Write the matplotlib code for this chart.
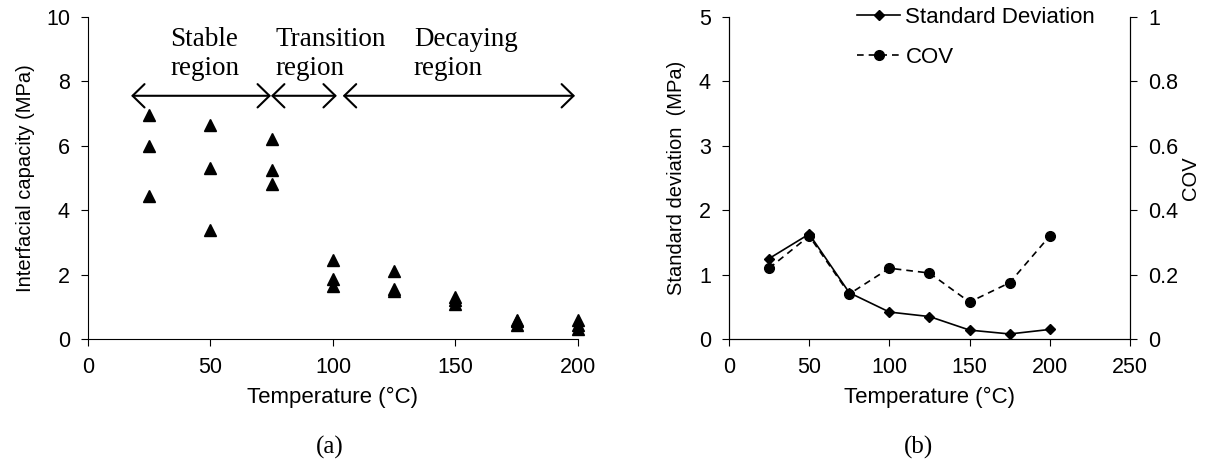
import matplotlib
matplotlib.use("Agg")
import matplotlib.pyplot as plt

plt.rcParams["font.family"] = ["Liberation Sans", "DejaVu Sans"]
plt.rcParams["font.size"] = 15.5

# (a) interfacial capacity, three specimens per temperature
temps = [25, 50, 75, 100, 125, 150, 175, 200]
capacity = [
    [6.95, 6.0, 4.45],
    [6.65, 5.3, 3.4],
    [6.2, 5.25, 4.8],
    [2.45, 1.85, 1.65],
    [2.1, 1.55, 1.5],
    [1.32, 1.2, 1.1],
    [0.6, 0.55, 0.45],
    [0.6, 0.45, 0.3],
]

# regions: (label, start, end, text x)
regions = [
    ("Stable\nregion", 17.6, 74.7, 33.5),
    ("Transition\nregion", 74.7, 101.6, 76.5),
    ("Decaying\nregion", 104, 198.8, 133),
]

# (b) scatter statistics
std_dev = [1.25, 1.63, 0.72, 0.42, 0.35, 0.14, 0.08, 0.15]
cov = [0.22, 0.32, 0.14, 0.22, 0.205, 0.115, 0.175, 0.32]

serif = ["Liberation Serif", "DejaVu Serif"]

fig = plt.figure(figsize=(12.15, 4.71), dpi=100)

ax1 = fig.add_axes([0.0724, 0.280, 0.4033, 0.6843])
xs = [t for t, vals in zip(temps, capacity) for _ in vals]
ys = [v for vals in capacity for v in vals]
ax1.plot(xs, ys, linestyle="none", marker="^", color="black", markersize=8,
         clip_on=False)
ax1.set_xlim(0, 200)
ax1.set_ylim(0, 10)
ax1.set_xticks([0, 50, 100, 150, 200])
ax1.set_yticks([0, 2, 4, 6, 8, 10])
ax1.spines["top"].set_visible(False)
ax1.spines["right"].set_visible(False)
ax1.set_xlabel("Temperature (°C)", fontsize=16, labelpad=6)
ax1.set_ylabel("Interfacial capacity (MPa)", fontsize=14.5, labelpad=8)
ax1.tick_params(direction="out", length=5, pad=8)

for label, x0, x1, tx in regions:
    ax1.annotate("", xy=(x0, 7.55), xytext=(x1, 7.55),
                 arrowprops=dict(arrowstyle="<->,head_length=0.43,head_width=0.42",
                                 color="black", lw=1.5, mutation_scale=20,
                                 shrinkA=0, shrinkB=0))
    ax1.text(tx, 8.85, label, family=serif, fontsize=19.5, ha="left",
             va="center", linespacing=1.22)

ax2 = fig.add_axes([0.600, 0.280, 0.330, 0.6843])
ax2.plot(temps, std_dev, color="black", marker="D", markersize=5, lw=1.2,
         label="Standard Deviation")
ax2.set_xlim(0, 250)
ax2.set_ylim(0, 5)
ax2.set_xticks([0, 50, 100, 150, 200, 250])
ax2.set_yticks([0, 1, 2, 3, 4, 5])
ax2.spines["top"].set_visible(False)
ax2.set_xlabel("Temperature (°C)", fontsize=16, labelpad=6)
ax2.set_ylabel("Standard deviation  (MPa)", fontsize=14.5, labelpad=9)
ax2.tick_params(direction="out", length=5, pad=8)

ax3 = ax2.twinx()
ax3.plot(temps, cov, color="black", marker="o", markersize=7, lw=1.2,
         linestyle=(0, (4, 3)), label="COV")
ax3.set_ylim(0, 1)
ax3.set_yticks([0, 0.2, 0.4, 0.6, 0.8, 1.0])
ax3.set_yticklabels(["0", "0.2", "0.4", "0.6", "0.8", "1"])
ax3.spines["top"].set_visible(False)
ax3.set_ylabel("COV", fontsize=14.5, labelpad=2)
ax3.tick_params(direction="out", length=5, pad=8)

h1, l1 = ax2.get_legend_handles_labels()
h3, l3 = ax3.get_legend_handles_labels()
fig.legend(h1 + h3, l1 + l3, loc="upper left", bbox_to_anchor=(0.7053, 0.985),
           frameon=False, borderpad=0, borderaxespad=0, handlelength=1.95,
           handletextpad=0.23, labelspacing=0.85, fontsize=16)

fig.text(0.2716, 0.05, "(a)", family=serif, fontsize=18, ha="center",
         va="center")
fig.text(0.756, 0.05, "(b)", family=serif, fontsize=18, ha="center",
         va="center")

fig.savefig("out.png", dpi=100)
